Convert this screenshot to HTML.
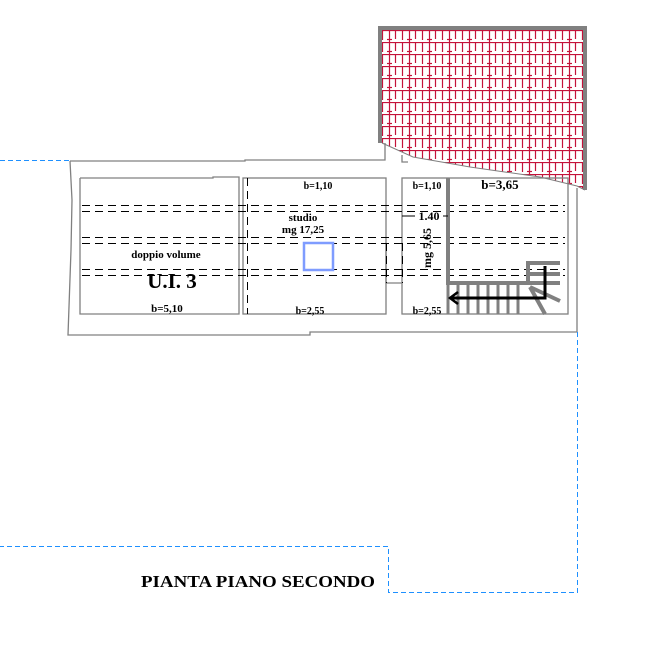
<!DOCTYPE html>
<html><head><style>html,body{margin:0;padding:0;background:#fff;}svg{display:block}</style></head>
<body>
<svg width="645" height="647" viewBox="0 0 645 647" xmlns="http://www.w3.org/2000/svg" font-family="Liberation Serif, serif">
<defs>
<pattern id="tile" width="20" height="12" patternUnits="userSpaceOnUse" x="380" y="30">
<rect width="20" height="12" fill="#fff"/>
<g stroke="#c4123a" stroke-width="1.2" fill="none">
<line x1="0" y1="0.5" x2="20" y2="0.5"/>
<line x1="2.5" y1="0" x2="2.5" y2="10"/>
<line x1="9.5" y1="0" x2="9.5" y2="12"/>
<line x1="15.5" y1="0" x2="15.5" y2="9"/>
<line x1="7" y1="9.5" x2="12" y2="9.5"/>
</g>
</pattern>
<clipPath id="roofclip"><polygon points="379,28 585,28 585,190 575,185 540,177 470,167 413,157 382,143 379,143"/></clipPath>
</defs>
<rect x="379" y="28" width="206" height="165" fill="url(#tile)" clip-path="url(#roofclip)"/>
<polyline points="380,143 380,28 585,28 585,190" fill="none" stroke="#808080" stroke-width="4"/>
<polyline points="382,143 413,157 470,167 540,177 577,186 585,190" fill="none" stroke="#808080" stroke-width="1"/>

<g fill="none" stroke="#808080" stroke-width="1.3">
<polyline points="70,161 245,161 245,160 385,160 385,143"/>
<polyline points="402,155 402,162 408,162"/>
<polyline points="70,161 72,200 71,250 68,335 310,335 310,332 577,332 577,188"/>
<polyline points="80,178 213,178 213,177 239,177 239,314 80,314 80,178"/>
<rect x="243" y="178" width="143" height="136"/>
<rect x="402" y="178" width="166" height="136"/>
<polyline points="386,243 386,283 402,283"/>
</g>

<g fill="none" stroke="#000" stroke-width="1" stroke-dasharray="8,5">
<line x1="82" y1="205.5" x2="565" y2="205.5"/>
<line x1="82" y1="211.5" x2="565" y2="211.5"/>
<line x1="82" y1="237.5" x2="565" y2="237.5"/>
<line x1="82" y1="243.5" x2="565" y2="243.5"/>
<line x1="82" y1="269.5" x2="565" y2="269.5"/>
<line x1="82" y1="275.5" x2="565" y2="275.5"/>
<line x1="247.5" y1="178" x2="247.5" y2="314"/>
<line x1="386.5" y1="243" x2="386.5" y2="283"/>
<line x1="402.5" y1="243" x2="402.5" y2="283"/>
</g>

<rect x="304" y="243" width="29" height="27" fill="none" stroke="#7f9cff" stroke-width="2.5"/>

<g stroke="#808080" stroke-width="4" fill="none">
<polyline points="448,178 448,283 528,283"/>
<polyline points="528,283 528,263 560,263"/>
<line x1="528" y1="274" x2="560" y2="274"/>
<line x1="528" y1="283" x2="560" y2="283"/>
<line x1="530" y1="287" x2="560" y2="301"/>
<line x1="530" y1="287" x2="545" y2="314"/>
</g>
<g stroke="#808080" stroke-width="3">
<line x1="448" y1="283" x2="448" y2="314"/><line x1="458" y1="283" x2="458" y2="314"/>
<line x1="468" y1="283" x2="468" y2="314"/><line x1="478" y1="283" x2="478" y2="314"/>
<line x1="488" y1="283" x2="488" y2="314"/><line x1="498" y1="283" x2="498" y2="314"/>
<line x1="508" y1="283" x2="508" y2="314"/><line x1="518" y1="283" x2="518" y2="314"/>
</g>
<polyline points="545,266 545,298 452,298" fill="none" stroke="#000" stroke-width="3"/>
<polyline points="458,292 450,298 458,304" fill="none" stroke="#000" stroke-width="2.5"/>

<g fill="none" stroke="#1e90ff" stroke-width="1" stroke-dasharray="5,3">
<line x1="0" y1="160.5" x2="70" y2="160.5"/>
<polyline points="577.5,332 577.5,592.5 388.5,592.5 388.5,546.5 0,546.5"/>
</g>

<g fill="#000" font-size="11" text-anchor="middle" font-weight="bold">
<text x="318" y="189" font-size="10">b=1,10</text>
<text x="303" y="221">studio</text>
<text x="303" y="233">mg 17,25</text>
<text x="166" y="258">doppio volume</text>
<text x="172" y="288" font-size="21">U.I. 3</text>
<text x="167" y="312">b=5,10</text>
<text x="310" y="314" font-size="10">b=2,55</text>
<text x="427" y="189" font-size="10">b=1,10</text>
<text x="500" y="189" font-size="13">b=3,65</text>
<text x="429" y="220" font-size="12">1.40</text>
<text x="427" y="314" font-size="10">b=2,55</text>
<text transform="translate(431,248) rotate(-90)" font-size="12">mg 5,65</text>
</g>
<g stroke="#000" stroke-width="1"><line x1="402" y1="216" x2="415" y2="216"/><line x1="443" y1="216" x2="448" y2="216"/></g>
<text x="141" y="587" font-size="17" font-weight="bold" textLength="234" lengthAdjust="spacingAndGlyphs" fill="#000">PIANTA PIANO SECONDO</text>
</svg>
</body></html>
